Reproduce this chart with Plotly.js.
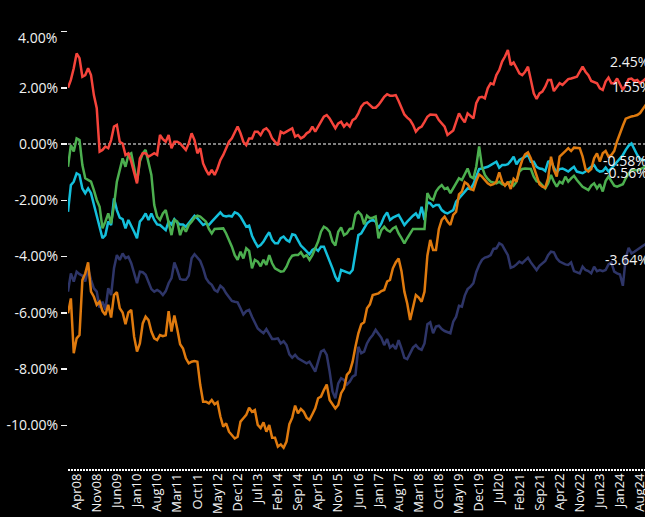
<!DOCTYPE html>
<html><head><meta charset="utf-8">
<script src="https://cdn.plot.ly/plotly-3.0.1.min.js"></script>
<style>html,body{margin:0;padding:0;background:#000;overflow:hidden}#chart{width:645px;height:517px}</style>
</head><body><div id="chart"></div>
<script>
// Monthly categories Jan08 .. Oct24
const monthNames = ['Jan','Feb','Mar','Apr','May','Jun','Jul','Aug','Sep','Oct','Nov','Dec'];
const months = [];
for (let y = 2008; y <= 2024; y++) {
  for (let m = 0; m < 12; m++) {
    if (y === 2024 && m > 9) break;
    months.push(monthNames[m] + String(y % 100).padStart(2, '0'));
  }
}

const tickLabels = ['Apr08','Nov08','Jun09','Jan10','Aug10','Mar11','Oct11','May12','Dec12','Jul13','Feb14','Sep14','Apr15','Nov15','Jun16','Jan17','Aug17','Mar18','Oct18','May19','Dec19','Jul20','Feb21','Sep21','Apr22','Nov22','Jun23','Jan24','Aug24'];

const redSeries = [2.00,2.28,2.69,3.22,3.05,2.39,2.45,2.69,2.45,1.74,1.27,-0.27,-0.21,-0.09,-0.15,0.14,0.62,0.68,0.08,0.02,-0.39,-0.33,-0.63,-0.98,-1.40,-0.51,-0.33,-0.33,-0.45,-0.39,-0.33,-0.39,0.32,0.17,0.08,
0.32,-0.15,0.08,0.08,0.02,-0.09,-0.21,0.02,0.38,0.14,-0.33,-0.15,-0.69,-0.92,-1.10,-0.92,-1.10,-0.87,-0.57,-0.39,-0.15,0.08,0.20,0.44,0.62,0.38,0.08,-0.04,0.20,0.20,0.44,0.44,0.32,
0.50,0.56,0.44,0.20,0.08,-0.04,0.44,0.38,0.44,0.50,0.56,0.26,0.32,0.20,0.26,0.38,0.44,0.62,0.44,0.62,0.79,0.97,1.03,0.91,0.73,0.56,0.73,0.79,0.62,0.73,0.62,0.85,0.91,
1.09,1.33,1.45,1.48,1.39,1.29,1.29,1.39,1.53,1.68,1.77,1.72,1.72,1.74,1.53,1.27,1.05,0.94,0.85,0.68,0.44,0.56,0.62,0.79,0.97,1.05,1.03,1.03,0.85,0.73,0.62,0.32,0.41,0.48,
0.79,1.09,0.91,0.77,1.09,1.01,0.91,1.45,1.65,1.68,1.62,1.98,2.16,2.12,2.45,2.63,2.93,3.11,3.34,2.81,2.90,2.71,2.51,2.45,2.57,2.75,2.22,1.80,1.60,1.80,1.86,2.04,2.28,
2.28,1.88,2.04,2.16,2.10,2.19,2.31,2.33,2.36,2.39,2.57,2.75,2.57,2.45,2.24,2.19,2.16,1.98,1.92,2.22,2.36,2.16,2.16,2.33,2.10,1.92,2.10,2.31,2.33,2.24,2.28,2.16,2.24,2.33];

const greenSeries = [-0.81,-0.04,-0.27,0.20,0.14,-0.75,-1.22,-1.28,-1.34,-1.64,-1.99,-2.23,-3.00,-2.76,-2.47,-2.82,-2.17,-1.34,-0.87,-0.51,-0.81,-0.39,-0.33,-0.87,-1.34,-0.63,-0.33,-0.21,-0.69,-1.10,-2.17,-2.58,-2.70,-2.47,-2.35,
-2.76,-3.24,-2.70,-2.76,-3.24,-2.94,-3.12,-2.88,-2.76,-2.62,-2.55,-2.58,-2.67,-2.76,-3.02,-3.18,-3.02,-3.02,-3.00,-3.00,-3.18,-3.41,-3.65,-3.95,-4.12,-3.83,-4.07,-3.71,-3.80,-4.42,-4.12,-4.18,-4.35,
-4.12,-4.30,-3.95,-4.24,-4.42,-4.48,-4.54,-4.52,-4.36,-4.12,-3.97,-3.95,-3.95,-3.85,-4.01,-3.95,-4.12,-3.95,-3.69,-3.47,-3.12,-2.94,-3.00,-3.12,-3.47,-3.61,-3.12,-2.97,-3.24,-3.18,-3.02,-3.00,-2.50,
-2.41,-2.52,-2.86,-2.55,-2.64,-2.62,-2.58,-3.35,-3.06,-2.94,-3.06,-3.12,-3.00,-2.94,-3.18,-3.35,-3.53,-3.35,-3.18,-3.02,-3.02,-3.02,-3.00,-3.02,-1.75,-1.93,-1.99,-1.69,-1.55,-1.46,-1.60,-1.55,-1.75,-1.58,
-1.40,-1.22,-1.28,-1.10,-0.87,-1.16,-1.22,-0.81,-0.09,-0.81,-1.10,-1.24,-1.34,-1.37,-1.40,-1.34,-1.43,-1.46,-1.40,-1.34,-1.48,-1.34,-0.98,-0.89,-0.87,-0.87,-0.89,-1.16,-1.32,-1.36,-1.46,-1.58,-1.40,
-1.10,-1.34,-1.52,-1.34,-1.40,-1.16,-1.34,-1.22,-1.13,-1.28,-1.40,-1.52,-1.58,-1.64,-1.48,-1.40,-1.58,-1.43,-1.69,-1.32,-1.16,-1.34,-1.48,-1.52,-1.46,-1.43,-1.22,-1.05,-0.95,-0.92,-0.95,-0.90,-0.85,-0.80];

const cyanSeries = [-2.41,-1.46,-1.34,-1.04,-1.10,-1.58,-1.75,-1.58,-1.75,-2.17,-2.52,-2.94,-3.35,-3.24,-2.76,-2.88,-1.93,-2.35,-2.62,-2.67,-3.00,-2.70,-2.94,-3.12,-3.35,-2.76,-2.64,-2.47,-2.70,-2.47,-2.70,-2.86,-2.88,-2.97,-3.06,
-2.76,-2.86,-2.67,-2.79,-2.86,-2.86,-2.94,-2.82,-2.70,-2.55,-2.64,-2.76,-2.88,-2.82,-2.88,-2.76,-2.64,-2.52,-2.43,-2.55,-2.58,-2.55,-2.58,-2.43,-2.47,-2.58,-2.76,-2.94,-2.90,-3.26,-3.47,-3.65,-3.59,
-3.47,-3.29,-3.14,-3.41,-3.53,-3.53,-3.35,-3.29,-3.41,-3.47,-3.21,-3.24,-3.41,-3.61,-3.71,-3.80,-3.92,-3.77,-3.71,-3.80,-3.65,-3.65,-3.89,-4.18,-4.42,-4.72,-4.89,-4.48,-4.52,-4.56,-4.60,-4.48,-3.90,
-3.24,-3.18,-3.02,-2.82,-2.74,-2.70,-2.76,-3.00,-2.82,-2.58,-2.43,-2.70,-2.62,-2.58,-2.52,-2.70,-2.88,-2.76,-2.64,-2.55,-2.47,-2.64,-2.23,-2.70,-2.07,-2.11,-2.23,-2.17,-2.17,-2.35,-2.43,-2.47,-2.41,-2.35,
-2.05,-1.93,-1.79,-1.69,-1.58,-1.60,-1.43,-1.16,-0.89,-0.87,-0.84,-0.81,-0.75,-0.69,-0.63,-0.84,-0.75,-0.75,-0.72,-0.60,-0.45,-0.72,-0.57,-0.51,-0.45,-0.39,-0.63,-0.63,-0.81,-0.87,-0.89,-0.96,-0.63,
-0.60,-0.84,-1.01,-0.89,-0.87,-0.92,-0.98,-0.89,-0.81,-0.98,-1.01,-1.04,-0.98,-0.89,-0.81,-0.75,-0.92,-0.98,-0.96,-0.84,-0.98,-0.87,-0.75,-0.63,-0.51,-0.39,-0.21,-0.06,0.02,-0.18,-0.39,-0.53,-0.57,-0.58];

const navySeries = [-5.25,-4.60,-4.89,-4.54,-4.63,-4.68,-4.89,-4.44,-4.83,-5.13,-5.25,-5.82,-5.61,-5.90,-5.13,-5.37,-4.42,-3.95,-4.12,-3.89,-4.06,-4.01,-4.24,-4.60,-4.95,-4.54,-4.56,-4.65,-4.89,-5.16,-5.25,-5.19,-5.25,-5.37,-5.23,
-4.95,-4.77,-4.21,-4.48,-4.80,-4.83,-4.83,-4.68,-4.06,-3.92,-4.06,-4.16,-4.42,-4.77,-4.92,-5.01,-5.19,-5.25,-5.04,-5.13,-5.31,-5.43,-5.58,-5.61,-5.63,-5.84,-6.06,-5.94,-5.90,-6.14,-6.34,-6.56,-6.65,
-6.73,-6.58,-6.77,-6.93,-6.93,-6.91,-7.09,-7.01,-7.15,-7.48,-7.60,-7.50,-7.62,-7.68,-7.76,-7.80,-7.74,-7.92,-8.09,-7.74,-7.38,-7.32,-7.50,-8.09,-8.80,-9.04,-8.51,-8.33,-8.39,-8.55,-8.45,-8.27,-8.21,
-7.21,-7.44,-7.38,-7.09,-6.91,-6.79,-6.61,-6.77,-6.89,-7.15,-6.93,-7.24,-7.15,-7.29,-6.97,-7.27,-7.60,-7.65,-7.44,-7.24,-7.15,-7.27,-7.32,-7.09,-6.41,-6.34,-6.73,-6.49,-6.46,-6.58,-6.65,-6.70,-6.73,-6.32,
-6.14,-5.75,-5.78,-5.39,-5.16,-5.07,-4.95,-4.56,-4.30,-4.12,-4.04,-4.01,-3.95,-3.73,-3.71,-3.53,-3.59,-3.77,-3.95,-4.40,-4.36,-4.28,-4.18,-4.24,-4.12,-4.04,-4.21,-4.33,-4.48,-4.33,-4.24,-4.16,-3.95,
-3.83,-3.85,-4.06,-4.18,-4.24,-4.28,-4.30,-4.21,-4.52,-4.56,-4.60,-4.36,-4.48,-4.52,-4.60,-4.36,-4.52,-4.48,-4.52,-4.48,-4.28,-4.21,-4.54,-4.60,-4.64,-5.04,-4.06,-3.69,-3.89,-3.83,-3.75,-3.70,-3.62,-3.55];

const orangeSeries = [-6.02,-5.49,-7.44,-6.91,-6.79,-4.84,-4.60,-4.21,-5.25,-5.43,-5.72,-5.61,-5.94,-6.08,-5.72,-6.17,-5.37,-5.27,-5.84,-5.99,-6.41,-5.99,-5.90,-6.85,-7.38,-7.09,-6.38,-6.14,-6.26,-6.67,-6.91,-6.97,-6.79,-6.83,-6.80,
-5.94,-6.67,-6.10,-6.58,-7.12,-7.27,-7.62,-7.80,-7.74,-7.72,-7.74,-8.57,-9.16,-9.16,-9.22,-9.10,-9.25,-9.18,-9.69,-10.05,-9.93,-10.23,-10.35,-10.47,-10.41,-9.87,-9.75,-9.63,-9.38,-9.52,-9.46,-9.99,-10.10,
-9.90,-10.23,-9.99,-10.44,-10.44,-10.76,-10.68,-10.80,-10.58,-9.96,-9.73,-9.30,-9.58,-9.42,-9.52,-9.73,-9.81,-9.61,-9.40,-9.04,-8.98,-8.75,-8.55,-9.10,-9.25,-9.40,-9.28,-8.86,-8.69,-8.21,-8.09,-7.74,-7.20,
-6.73,-6.41,-6.34,-5.84,-5.70,-5.37,-5.34,-5.31,-5.23,-5.19,-4.89,-4.83,-4.42,-4.21,-4.07,-4.52,-5.25,-5.67,-6.26,-5.84,-5.37,-5.46,-5.61,-5.25,-3.97,-3.41,-3.77,-3.77,-3.02,-2.70,-2.58,-2.76,-2.88,-2.52,
-2.41,-1.79,-1.69,-1.36,-1.43,-1.60,-1.64,-1.32,-1.08,-1.16,-1.28,-1.40,-1.46,-1.43,-1.34,-1.01,-1.34,-1.48,-1.34,-1.60,-1.24,-1.34,-0.89,-0.57,-0.37,-0.30,-0.51,-0.84,-1.16,-1.43,-1.52,-1.55,-1.22,
-0.45,-0.92,-1.16,-0.45,-0.33,-0.25,-0.15,-0.25,-0.13,-0.13,-0.15,-0.45,-0.89,-0.98,-0.89,-0.51,-0.33,-0.63,-0.33,-0.25,-0.45,-0.39,-0.25,0.10,0.40,0.65,0.90,0.95,0.98,1.00,1.03,1.10,1.25,1.40];

const endLabels = ['2.45%','1.55%','-0.58%','-0.56%','-3.64%'];
const yTickVals = [-10,-8,-6,-4,-2,0,2,4];
const yTickText = ['-10.00%','-8.00%','-6.00%','-4.00%','-2.00%','0.00%','2.00%',''];

const colors = {red:'#f5443b', orange:'#df7a0e', green:'#4caf4f', cyan:'#14bfdb', navy:'#2e3568'};

function tr(y, c){ return {x: months, y: y, type:'scatter', mode:'lines', line:{color:c, width:2.5}, hoverinfo:'skip'}; }
const data = [
  tr(navySeries, colors.navy),
  tr(cyanSeries, colors.cyan),
  tr(greenSeries, colors.green),
  tr(orangeSeries, colors.orange),
  tr(redSeries, colors.red)
];

const W = 577;
function px(p){ return (p - 68) / W; }
const annFont = {family:'Open Sans, sans-serif', size:14, color:'#f2f2f2'};
const annotations = [
  {xref:'paper', yref:'y', x:px(608), y:2.95, text:endLabels[0], showarrow:false, xanchor:'left', yanchor:'middle', font:annFont},
  {xref:'paper', yref:'y', x:px(610), y:2.03, text:endLabels[1], showarrow:false, xanchor:'left', yanchor:'middle', font:annFont},
  {xref:'paper', yref:'y', x:px(601), y:-0.57, text:endLabels[2], showarrow:false, xanchor:'left', yanchor:'middle', font:annFont},
  {xref:'paper', yref:'y', x:px(602), y:-1.0, text:endLabels[3], showarrow:false, xanchor:'left', yanchor:'middle', font:annFont},
  {xref:'paper', yref:'y', x:px(603), y:-4.12, text:endLabels[4], showarrow:false, xanchor:'left', yanchor:'middle', font:annFont},
  {xref:'paper', yref:'y', x:0, xshift:-9, y:3.77, text:'4.00%', showarrow:false, xanchor:'right', yanchor:'middle', font:annFont}
];

const layout = {
  width:645, height:517,
  paper_bgcolor:'#000', plot_bgcolor:'#000',
  margin:{l:68, r:0, t:20, b:47},
  showlegend:false,
  font:{family:'Open Sans, sans-serif', color:'#f2f2f2', size:14},
  xaxis:{type:'category', range:[0, 200.7], tickmode:'array', tickvals:tickLabels, ticktext:tickLabels,
         tickangle:-90, tickfont:{size:13, color:'#f2f2f2'}, showgrid:false, zeroline:false, showline:false, ticks:''},
  yaxis:{range:[-11.591, 4.409], tickmode:'array', tickvals:yTickVals, ticktext:yTickText,
         ticks:'outside', ticklen:6, tickwidth:1.5, tickcolor:'#f2f2f2', showgrid:false, zeroline:false, showline:false,
         tickfont:{size:14, color:'#f2f2f2'}},
  shapes:[
    {type:'line', xref:'paper', x0:0, x1:1, yref:'y', y0:0, y1:0, line:{color:'#ffffff', width:1, dash:'3px,2px'}, layer:'below'},
    {type:'line', xref:'paper', x0:0, x1:1, yref:'paper', y0:0, y1:0, line:{color:'#ffffff', width:2, dash:'2px,1px'}}
  ],
  annotations: annotations
};

Plotly.newPlot('chart', data, layout, {displayModeBar:false, staticPlot:true});
</script>
</body></html>
